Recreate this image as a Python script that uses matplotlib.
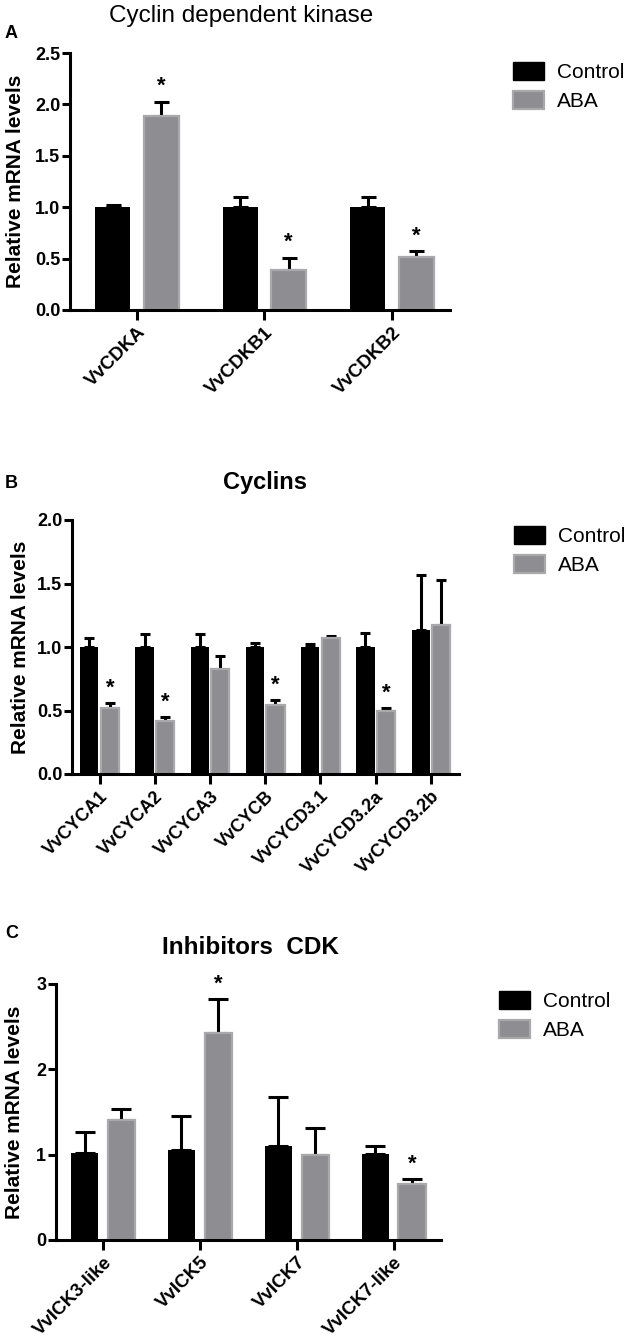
import matplotlib
matplotlib.use("Agg")
import matplotlib.pyplot as plt
import numpy as np
from matplotlib.patches import Patch

plt.rcParams['font.family'] = ['Liberation Sans', 'DejaVu Sans']

# ---------------- data ----------------
cdk_genes = ["VvCDKA", "VvCDKB1", "VvCDKB2"]
cdk_control = [1.00, 1.00, 1.00]
cdk_control_err = [0.02, 0.10, 0.10]
cdk_aba = [1.89, 0.39, 0.52]
cdk_aba_err = [0.13, 0.12, 0.05]
cdk_sig = [True, True, True]

cyc_genes = ["VvCYCA1", "VvCYCA2", "VvCYCA3", "VvCYCB", "VvCYCD3.1", "VvCYCD3.2a", "VvCYCD3.2b"]
cyc_control = [1.00, 1.00, 1.00, 1.00, 1.00, 1.00, 1.13]
cyc_control_err = [0.07, 0.10, 0.10, 0.03, 0.02, 0.11, 0.44]
cyc_aba = [0.52, 0.42, 0.83, 0.54, 1.07, 0.50, 1.17]
cyc_aba_err = [0.04, 0.03, 0.10, 0.04, 0.02, 0.02, 0.36]
cyc_sig = [True, True, False, True, False, True, False]

ick_genes = ["VvICK3-like", "VvICK5", "VvICK7", "VvICK7-like"]
ick_control = [1.02, 1.05, 1.10, 1.01]
ick_control_err = [0.24, 0.40, 0.58, 0.09]
ick_aba = [1.41, 2.43, 1.00, 0.66]
ick_aba_err = [0.13, 0.39, 0.31, 0.05]
ick_sig = [False, True, False, True]

series_names = ["Control", "ABA"]

CTRL = "#000000"
ABA_FACE = "#8e8e92"
ABA_EDGE = "#a9a9ab"

W, H = 634, 1342
fig = plt.figure(figsize=(W / 100, H / 100), dpi=100)


def px_axes(left, right, y0, ytop):
    return fig.add_axes([left / W, 1 - y0 / H, (right - left) / W, (y0 - ytop) / H])


def panel(ax, genes, ctrl, ctrl_err, aba, aba_err, sig, width, offset, capsize,
          xlim, ylim, yticks, yticklabels, xtick_fs, ylab_x, star_pad):
    x = np.arange(len(genes))
    ax.bar(x - offset, ctrl, width, color=CTRL, edgecolor=CTRL, linewidth=0, zorder=2)
    ax.bar(x + offset, aba, width, color=ABA_FACE, edgecolor=ABA_EDGE, linewidth=1.6, zorder=2)
    ax.errorbar(x - offset, ctrl, yerr=[np.zeros(len(x)), ctrl_err], fmt='none',
                ecolor='black', elinewidth=2.2, capsize=capsize, capthick=2.2, zorder=1)
    ax.errorbar(x + offset, aba, yerr=[np.zeros(len(x)), aba_err], fmt='none',
                ecolor='black', elinewidth=2.2, capsize=capsize, capthick=2.2, zorder=1)
    for xi, v, e, s in zip(x, aba, aba_err, sig):
        if s:
            ax.text(xi + offset, v + e + star_pad, "*", ha='center', va='bottom',
                    fontsize=16, fontweight='bold')
    ax.set_xlim(*xlim)
    ax.set_ylim(*ylim)
    ax.set_yticks(yticks)
    ax.set_yticklabels(yticklabels, fontsize=13, fontweight='bold')
    ax.set_xticks(x)
    ax.set_xticklabels(genes, rotation=45, ha='right', rotation_mode='anchor',
                       fontsize=xtick_fs, fontweight='bold')
    for s in ['top', 'right']:
        ax.spines[s].set_visible(False)
    for s in ['left', 'bottom']:
        ax.spines[s].set_linewidth(2.2)
    ax.tick_params(axis='y', width=2.2, length=6, direction='out', pad=1)
    ax.tick_params(axis='x', width=2.2, length=7, direction='out', pad=3)
    ax.set_ylabel("Relative mRNA levels", fontsize=15, fontweight='bold')
    ax.yaxis.set_label_coords(ylab_x, 0.5)


def legend(x, y):
    handles = [Patch(facecolor=CTRL, edgecolor=CTRL),
               Patch(facecolor=ABA_FACE, edgecolor=ABA_EDGE, linewidth=1.6)]
    fig.legend(handles, series_names, loc='upper left',
               bbox_to_anchor=(x / W, 1 - y / H), frameon=False, fontsize=15,
               handlelength=1.5, handleheight=0.95, handletextpad=0.6, labelspacing=0.42,
               borderaxespad=0, borderpad=0)


# ---------------- Panel A ----------------
axA = px_axes(70, 450, 310, 53)
panel(axA, cdk_genes, cdk_control, cdk_control_err, cdk_aba, cdk_aba_err, cdk_sig,
      width=0.275, offset=0.19, capsize=5.4, xlim=(-0.525, 2.455), ylim=(0, 2.5),
      yticks=[0, 0.5, 1.0, 1.5, 2.0, 2.5],
      yticklabels=["0.0", "0.5", "1.0", "1.5", "2.0", "2.5"],
      xtick_fs=13.5, ylab_x=(25 - 70) / 380, star_pad=0.05)
fig.text(241 / W, 1 - 16 / H, "Cyclin dependent kinase", ha='center', va='center', fontsize=17.5)
fig.text(5 / W, 1 - 33 / H, "A", ha='left', va='center', fontsize=13, fontweight='bold')
legend(513, 62)

# ---------------- Panel B ----------------
axB = px_axes(72, 459, 774, 520)
panel(axB, cyc_genes, cyc_control, cyc_control_err, cyc_aba, cyc_aba_err, cyc_sig,
      width=0.33, offset=0.185, capsize=3.6, xlim=(-0.50, 6.51), ylim=(0, 2.0),
      yticks=[0, 0.5, 1.0, 1.5, 2.0],
      yticklabels=["0.0", "0.5", "1.0", "1.5", "2.0"],
      xtick_fs=13, ylab_x=(30 - 72) / 387, star_pad=0.035)
fig.text(265 / W, 1 - 483 / H, "Cyclins", ha='center', va='center', fontsize=17, fontweight='bold')
fig.text(5 / W, 1 - 483 / H, "B", ha='left', va='center', fontsize=13, fontweight='bold')
legend(514, 526)

# ---------------- Panel C ----------------
axC = px_axes(56, 441, 1240, 984)
panel(axC, ick_genes, ick_control, ick_control_err, ick_aba, ick_aba_err, ick_sig,
      width=0.28, offset=0.19, capsize=7.0, xlim=(-0.486, 3.49), ylim=(0, 3),
      yticks=[0, 1, 2, 3], yticklabels=["0", "1", "2", "3"],
      xtick_fs=13.5, ylab_x=(24 - 56) / 385, star_pad=0.05)
fig.text(250 / W, 1 - 948 / H, "Inhibitors  CDK", ha='center', va='center', fontsize=17.5, fontweight='bold')
fig.text(5 / W, 1 - 934 / H, "C", ha='left', va='center', fontsize=13, fontweight='bold')
legend(499, 991)

fig.savefig("out.png", dpi=100, facecolor='white')
